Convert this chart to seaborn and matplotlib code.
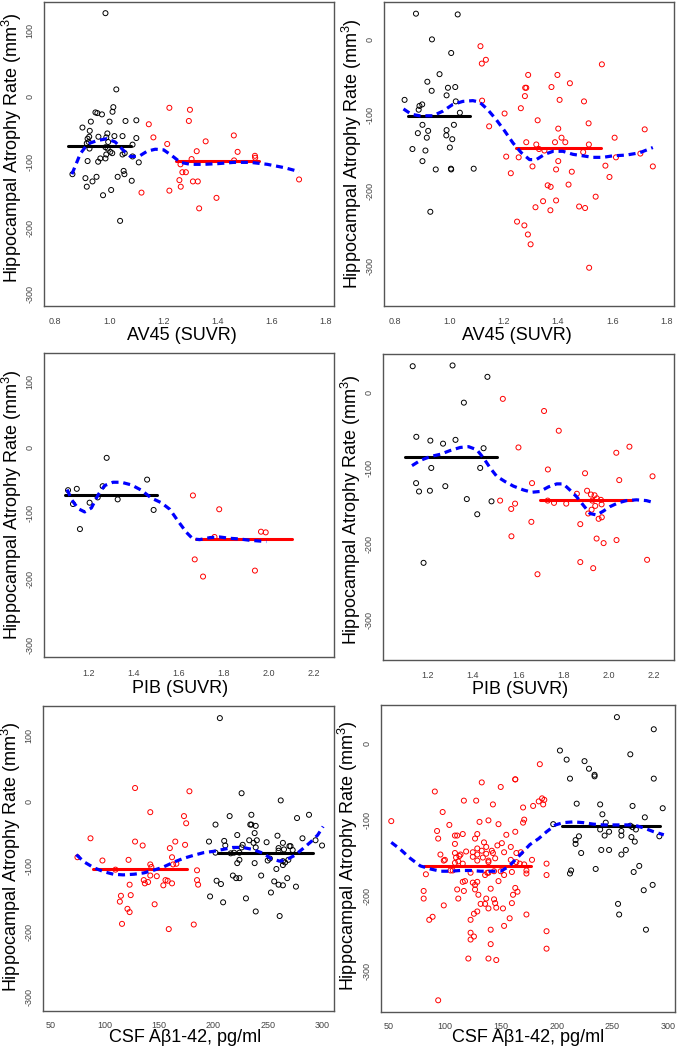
import numpy as np
import pandas as pd
import seaborn as sns
import matplotlib
matplotlib.use("Agg")
import matplotlib.pyplot as plt

# ---- Panel 1: AV45 (SUVR), left ----
p1_black_x = [0.986, 1.026, 1.015, 1.012, 0.949, 0.956, 0.973, 0.932, 1.001, 1.06, 1.1, 0.901, 0.928, 0.993,
              0.926, 0.96, 1.019, 1.049, 1.1, 0.92, 0.989, 0.924, 0.996, 0.917, 0.986, 0.927, 0.994, 1.086,
              1.011, 0.989, 1.049, 1.057, 0.967, 0.986, 1.086, 0.92, 0.959, 1.109, 0.864, 1.053, 1.056, 1.031,
              0.953, 0.912, 0.938, 1.083, 0.917, 1.007, 0.977, 1.04, 1.004]
p1_black_y = [127, 11, -16, -23, -24, -25, -27, -38, -38, -37, -36, -47, -52, -56,
              -61, -61, -60, -60, -63, -64, -62, -69, -69, -71, -77, -79, -79, -73,
              -86, -88, -88, -86, -94, -94, -91, -98, -99, -100, -118, -113, -118, -122,
              -122, -124, -129, -128, -137, -142, -150, -189, -84]
p1_red_x = [1.222, 1.298, 1.294, 1.146, 1.163, 1.46, 1.356, 1.214, 1.323, 1.474, 1.304, 1.538, 1.539,
            1.461, 1.263, 1.27, 1.283, 1.259, 1.309, 1.327, 1.119, 1.222, 1.264, 1.396, 1.332, 1.701]
p1_red_y = [-17, -20, -37, -42, -62, -59, -68, -72, -83, -84, -95, -90, -93,
            -97, -103, -115, -115, -127, -129, -129, -146, -143, -137, -154, -170, -126]
p1_black_mean = ([0.847, 1.079], [-74.5, -74.5])
p1_red_mean = ([1.248, 1.553], [-98, -98])
p1_fit_x = [0.862, 0.893, 0.92, 0.954, 0.991, 1.022, 1.053, 1.078, 1.109, 1.14, 1.17, 1.201, 1.232, 1.263,
            1.3, 1.349, 1.399, 1.46, 1.522, 1.584, 1.646, 1.701]
p1_fit_y = [-118, -87, -72, -67, -64, -69, -82, -91, -91, -83, -80, -81, -90, -100,
            -103, -103, -102, -100, -100, -103, -108, -114]

# ---- Panel 2: AV45 (SUVR), right ----
p2_black_x = [0.876, 1.03, 0.935, 1.006, 0.963, 0.918, 0.934, 0.994, 1.021, 0.834, 0.989, 1.023, 0.899,
              0.889, 0.886, 1.038, 0.9, 1.016, 0.883, 0.921, 0.989, 0.988, 0.916, 1.01, 1.001, 0.863, 0.911,
              0.9, 0.949, 1.005, 1.006, 1.089, 0.929]
p2_black_y = [34, 33, 0, -18, -46, -56, -68, -64, -63, -80, -74, -82, -86,
              -88, -93, -97, -113, -113, -124, -121, -120, -127, -130, -132, -143, -145, -147,
              -161, -172, -171, -172, -171, -228]
p2_red_x = [1.114, 1.119, 1.134, 1.562, 1.29, 1.398, 1.444, 1.279, 1.283, 1.376, 1.278, 1.406, 1.496,
            1.12, 1.263, 1.203, 1.325, 1.513, 1.146, 1.401, 1.72, 1.413, 1.609, 1.283, 1.389, 1.427, 1.32,
            1.514, 1.33, 1.35, 1.493, 1.704, 1.209, 1.255, 1.614, 1.401, 1.306, 1.575, 1.75, 1.393, 1.451,
            1.226, 1.59, 1.439, 1.362, 1.373, 1.539, 1.345, 1.393, 1.317, 1.478, 1.5, 1.372, 1.249, 1.276,
            1.289, 1.299, 1.515]
p2_red_y = [-9, -32, -27, -33, -47, -47, -58, -64, -64, -63, -75, -80, -82,
            -81, -91, -98, -107, -111, -115, -118, -119, -130, -130, -136, -136, -136, -139,
            -139, -145, -147, -149, -151, -155, -156, -156, -161, -168, -167, -168, -172, -175,
            -177, -182, -192, -193, -195, -208, -214, -213, -222, -221, -223, -226, -241, -246,
            -258, -271, -302]
p2_black_mean = ([0.847, 1.077], [-101, -101])
p2_red_mean = ([1.246, 1.557], [-144, -144])
p2_fit_x = [0.83, 0.859, 0.889, 0.938, 0.975, 1.012, 1.049, 1.086, 1.111, 1.141, 1.172, 1.203, 1.234,
            1.265, 1.295, 1.32, 1.351, 1.382, 1.418, 1.455, 1.492, 1.529, 1.566, 1.603, 1.652, 1.701, 1.75]
p2_fit_y = [-92, -99, -101, -101, -95, -86, -82, -81, -83, -93, -106, -121, -137,
            -150, -159, -159, -152, -148, -148, -152, -154, -156, -156, -154, -153, -150, -143]

# ---- Panel 3: PIB (SUVR), left ----
p3_black_x = [1.108, 1.147, 1.13, 1.161, 1.204, 1.24, 1.262, 1.28, 1.329, 1.46, 1.489]
p3_black_y = [-65, -63, -86, -124, -84, -76, -59, -16, -79, -49, -95]
p3_red_x = [1.664, 1.781, 1.76, 1.967, 1.988, 1.672, 1.709, 1.94]
p3_red_y = [-73, -94, -136, -128, -129, -170, -196, -187]
p3_black_mean = ([1.093, 1.503], [-72, -72])
p3_red_mean = ([1.679, 2.104], [-139, -139])
p3_fit_x = [1.104, 1.123, 1.153, 1.182, 1.212, 1.242, 1.271, 1.308, 1.345, 1.39, 1.434, 1.479, 1.523,
            1.561, 1.598, 1.635, 1.664, 1.694, 1.739, 1.783, 1.828, 1.872, 1.917, 1.954, 1.991]
p3_fit_y = [-64, -79, -93, -98, -92, -72, -58, -53, -53, -57, -65, -77, -84,
            -94, -112, -129, -139, -140, -137, -136, -138, -139, -141, -142, -143]

# ---- Panel 4: PIB (SUVR), right ----
p4_black_x = [1.134, 1.31, 1.464, 1.36, 1.15, 1.212, 1.268, 1.323, 1.447, 1.216, 1.432, 1.149, 1.162,
              1.21, 1.278, 1.373, 1.482, 1.419, 1.182]
p4_black_y = [34, 35, 20, -14, -59, -64, -68, -63, -74, -100, -100, -120, -131,
              -130, -124, -141, -144, -161, -225]
p4_red_x = [1.532, 1.714, 1.779, 1.601, 2.033, 2.091, 2.193, 1.731, 1.895, 2.046, 1.661, 1.904, 1.859,
            1.921, 1.937, 1.947, 1.927, 1.965, 1.52, 1.73, 1.758, 1.812, 1.586, 1.968, 1.94, 1.569, 1.924,
            1.909, 1.969, 1.955, 1.658, 1.874, 1.57, 1.946, 2.034, 1.977, 1.874, 2.169, 1.931, 1.685]
p4_red_y = [-9, -25, -51, -73, -80, -72, -111, -102, -107, -116, -120, -130, -134,
            -135, -136, -140, -143, -142, -143, -143, -146, -147, -147, -148, -150, -154, -155,
            -160, -165, -167, -171, -174, -190, -193, -195, -199, -224, -221, -232, -240]
p4_black_mean = ([1.099, 1.505], [-86, -86])
p4_red_mean = ([1.696, 2.102], [-142, -142])
p4_fit_x = [1.131, 1.168, 1.212, 1.256, 1.3, 1.344, 1.381, 1.417, 1.447, 1.476, 1.505, 1.542, 1.579,
            1.623, 1.66, 1.696, 1.733, 1.77, 1.799, 1.828, 1.858, 1.887, 1.917, 1.946, 1.975, 2.005,
            2.041, 2.078, 2.122, 2.166, 2.203]
p4_fit_y = [-97, -90, -85, -82, -77, -73, -72, -76, -87, -100, -111, -118, -124,
            -129, -132, -131, -125, -121, -121, -129, -138, -149, -160, -162, -157, -151,
            -146, -143, -142, -143, -146]

# ---- Panel 5: CSF Abeta 1-42, left ----
p5_black_x = [206, 226, 262, 215, 235, 234, 235, 239, 277, 288, 202, 196, 210, 211, 222, 227, 226, 233,
              238, 240, 237, 239, 249, 259, 264, 260, 265, 270, 271, 282, 294, 300, 202, 216, 219, 224,
              224, 222, 238, 250, 252, 260, 264, 266, 264, 269, 273, 258, 203, 207, 218, 221, 224, 244,
              256, 260, 264, 268, 276, 197, 209, 230, 253, 239, 261]
p5_black_y = [127, 12, 1, -23, -21, -36, -36, -38, -26, -21, -36, -62, -61, -68, -52, -67, -71, -60,
              -49, -60, -64, -71, -63, -53, -64, -72, -74, -69, -69, -57, -60, -68, -79, -80, -79, -79,
              -90, -95, -95, -91, -88, -76, -92, -94, -98, -90, -75, -104, -122, -127, -114, -118, -118, -114,
              -123, -128, -129, -118, -131, -146, -155, -149, -140, -169, -176]
p5_red_x = [75, 87, 98, 110, 122, 123, 124, 115, 114, 121, 123, 116, 128, 128, 135, 142, 136, 137, 140,
            142, 143, 142, 148, 146, 154, 156, 158, 159, 160, 162, 163, 166, 162, 165, 173, 175, 174, 178,
            182, 185, 185, 186]
p5_red_y = [-86, -57, -91, -105, -90, -128, -144, -145, -154, -165, -170, -188, 20, -62, -68, -17, -121, -126, -124,
            -97, -101, -114, -115, -158, -129, -121, -122, -196, -72, -86, -97, -96, -126, -62, -23, -34, -67, 15,
            -189, -106, -121, -128]
p5_red_mean = ([89, 176], [-104, -104])
p5_black_mean = ([204, 292], [-79, -79])
p5_fit_x = [74, 81, 90, 99, 108, 117, 127, 136, 145, 154, 163, 172, 182, 191, 200, 209, 218, 227,
            236, 246, 253, 261, 267, 275, 283, 290, 296, 301]
p5_fit_y = [-82, -93, -102, -108, -112, -113, -112, -110, -106, -101, -94, -88, -83, -79, -77, -74, -71, -71,
            -74, -80, -88, -92, -90, -83, -72, -62, -52, -39]

# ---- Panel 6: CSF Abeta 1-42, right ----
p6_black_x = [254, 287, 203, 209, 266, 225, 229, 234, 234, 212, 287, 218, 239, 268, 295, 279, 241, 197,
              244, 266, 268, 271, 239, 247, 258, 243, 258, 267, 292, 220, 217, 217, 270, 222, 240, 247,
              262, 258, 213, 212, 235, 269, 274, 278, 286, 255, 256, 280]
p6_black_y = [35, 19, -9, -21, -14, -23, -33, -41, -43, -46, -46, -79, -80, -82, -85, -97, -93, -106,
              -104, -108, -110, -113, -113, -116, -115, -121, -121, -123, -122, -122, -127, -132, -129, -144, -140, -140,
              -140, -146, -167, -171, -165, -169, -161, -193, -186, -211, -225, -245]
p6_red_x = [52, 91, 98, 93, 94, 96, 99, 100, 104, 83, 81, 81, 99, 86, 89, 94, 109, 111, 109, 109, 110,
            113, 114, 116, 117, 119, 109, 112, 116, 105, 107, 111, 112, 117, 116, 118, 123, 123, 123, 125,
            125, 125, 126, 123, 127, 127, 127, 126, 121, 128, 129, 129, 129, 129, 129, 129, 130, 131, 132,
            133, 134, 133, 135, 136, 136, 137, 137, 137, 138, 139, 139, 139, 139, 139, 141, 141, 141, 139,
            142, 143, 143, 144, 145, 144, 145, 146, 146, 147, 148, 148, 150, 151, 150, 152, 153, 153, 153,
            155, 158, 159, 159, 160, 160, 161, 163, 163, 163, 164, 163, 165, 164, 167, 168, 170, 170, 171,
            171, 173, 173, 173, 178, 179, 185, 184, 187, 188, 189, 191, 191, 191, 191]
p6_red_y = [-102, -63, -90, -115, -125, -146, -154, -153, -107, -172, -194, -204, -213, -232, -228, -338, -121,
            -121, -132, -144, -150, -148, -146, -119, -75, -142, -157, -155, -158, -167, -167, -192, -204, -194,
            -182, -181, -170, -232, -249, -143, -149, -183, -254, -258, -125, -186, -192, -224, -283, -75, -146,
            -154, -138, -119, -182, -221, -199, -103, -211, -141, -150, -51, -130, -173, -211, -204, -136, -145,
            -170, -101, -154, -156, -170, -217, -191, -245, -264, -283, -141, -80, -144, -168, -151, -205, -210,
            -216, -285, -134, -181, -106, -168, -131, -57, -217, -173, -143, -240, -120, -230, -136, -153, -169,
            -210, -199, -116, -47, -47, -144, -190, -195, -156, -158, -143, -84, -104, -100, -159, -167, -171,
            -225, -153, -82, -27, -76, -72, -80, -74, -158, -173, -247, -270]
p6_red_mean = ([81, 177], [-161, -161])
p6_black_mean = ([205, 293], [-109, -109])
p6_fit_x = [52, 60, 69, 78, 87, 96, 105, 114, 123, 132, 141, 150, 157, 163, 169, 176, 184, 191, 199,
            206, 215, 224, 233, 242, 251, 260, 269, 278, 287, 296]
p6_fit_y = [-130, -139, -151, -161, -165, -168, -168, -167, -167, -168, -168, -168, -162, -153, -144, -133,
            -125, -116, -107, -104, -103, -104, -106, -107, -107, -107, -107, -111, -116, -120]

suvr_ticks = [0.8, 1.0, 1.2, 1.4, 1.6, 1.8]
pib_ticks = [1.2, 1.4, 1.6, 1.8, 2.0, 2.2]
csf_ticks = [50, 100, 150, 200, 250, 300]

ylab = "Hippocampal Atrophy Rate (mm$^3$)"

panels = [
    dict(pos=[0.0648, 0.7089, 0.4271, 0.2892], xlim=(0.759, 1.83), ylim=(-318, 144),
         xticks=suvr_ticks, fmt="{:.1f}", yticks=[-300, -200, -100, 0, 100], xlabel="AV45 (SUVR)",
         lx=0.475, ly=-0.071, xpad=4.5, ycen=0.52,
         black=(p1_black_x, p1_black_y), red=(p1_red_x, p1_red_y),
         bmean=p1_black_mean, rmean=p1_red_mean, fit=(p1_fit_x, p1_fit_y)),
    dict(pos=[0.5655, 0.7090, 0.4271, 0.2895], xlim=(0.758, 1.828), ylim=(-352, 50),
         xticks=suvr_ticks, fmt="{:.1f}", yticks=[-300, -200, -100, 0], xlabel="AV45 (SUVR)",
         lx=0.46, ly=-0.071, xpad=4.5, ycen=0.5,
         black=(p2_black_x, p2_black_y), red=(p2_red_x, p2_red_y),
         bmean=p2_black_mean, rmean=p2_red_mean, fit=(p2_fit_x, p2_fit_y)),
    dict(pos=[0.0648, 0.3743, 0.4271, 0.2895], xlim=(1.001, 2.292), ylim=(-318, 143),
         xticks=pib_ticks, fmt="{:.1f}", yticks=[-300, -200, -100, 0, 100], xlabel="PIB (SUVR)",
         lx=0.47, ly=-0.076, xpad=4.5, ycen=0.5,
         black=(p3_black_x, p3_black_y), red=(p3_red_x, p3_red_y),
         bmean=p3_black_mean, rmean=p3_red_mean, fit=(p3_fit_x, p3_fit_y)),
    dict(pos=[0.5641, 0.3714, 0.4286, 0.2914], xlim=(1.003, 2.288), ylim=(-353, 50),
         xticks=pib_ticks, fmt="{:.1f}", yticks=[-300, -200, -100, 0], xlabel="PIB (SUVR)",
         lx=0.47, ly=-0.067, xpad=4, ycen=0.49,
         black=(p4_black_x, p4_black_y), red=(p4_red_x, p4_red_y),
         bmean=p4_black_mean, rmean=p4_red_mean, fit=(p4_fit_x, p4_fit_y)),
    dict(pos=[0.0633, 0.0374, 0.4286, 0.2905], xlim=(43.3, 311), ylim=(-321, 146),
         xticks=csf_ticks, fmt="{:.0f}", yticks=[-300, -200, -100, 0, 100], xlabel="CSF A\u03b21-42, pg/ml",
         lx=0.49, ly=-0.059, xpad=3.5, ycen=0.505,
         black=(p5_black_x, p5_black_y), red=(p5_red_x, p5_red_y),
         bmean=p5_black_mean, rmean=p5_red_mean, fit=(p5_fit_x, p5_fit_y)),
    dict(pos=[0.5611, 0.0365, 0.4330, 0.2921], xlim=(42.8, 306), ylim=(-353, 51),
         xticks=csf_ticks, fmt="{:.0f}", yticks=[-300, -200, -100, 0], xlabel="CSF A\u03b21-42, pg/ml",
         lx=0.5, ly=-0.058, xpad=3.5, ycen=0.51,
         black=(p6_black_x, p6_black_y), red=(p6_red_x, p6_red_y),
         bmean=p6_black_mean, rmean=p6_red_mean, fit=(p6_fit_x, p6_fit_y)),
]

sns.set_theme(style="white")
plt.rcParams["font.family"] = ["Liberation Sans", "DejaVu Sans"]
plt.rcParams["mathtext.fontset"] = "custom"
plt.rcParams["mathtext.rm"] = "Liberation Sans"
plt.rcParams["mathtext.it"] = "Liberation Sans:italic"

fig = plt.figure(figsize=(6.79, 10.5), dpi=100)
fig.patch.set_facecolor("white")


def draw_panel(p):
    ax = fig.add_axes(p["pos"])
    ax.set_facecolor("white")
    sns.scatterplot(x=p["black"][0], y=p["black"][1], ax=ax, marker="o", s=13,
                    facecolor="none", edgecolor="black", linewidth=0.7, zorder=3)
    sns.scatterplot(x=p["red"][0], y=p["red"][1], ax=ax, marker="o", s=13,
                    facecolor="none", edgecolor="#ff0000", linewidth=0.7, zorder=3)
    sns.lineplot(x=p["bmean"][0], y=p["bmean"][1], ax=ax, color="black", linewidth=2.2, zorder=4)
    sns.lineplot(x=p["rmean"][0], y=p["rmean"][1], ax=ax, color="#ff0000", linewidth=2.2, zorder=4)
    sns.lineplot(x=p["fit"][0], y=p["fit"][1], ax=ax, color="#0000ff", linewidth=2.3,
                 linestyle=(0, (2.2, 1.5)), zorder=5)
    ax.set_xlim(*p["xlim"])
    ax.set_ylim(*p["ylim"])
    ax.set_xticks(p["xticks"])
    ax.set_xticklabels([p["fmt"].format(t) for t in p["xticks"]])
    ax.set_yticks(p["yticks"])
    ax.set_yticklabels([str(t) for t in p["yticks"]], rotation=90, va="center")
    ax.tick_params(axis="both", direction="out", length=4, width=0.8, color="#555555",
                   labelsize=6.5, labelcolor="#444444")
    ax.tick_params(axis="x", pad=p["xpad"])
    ax.tick_params(axis="y", pad=3)
    for sp in ax.spines.values():
        sp.set_color("#555555")
        sp.set_linewidth(1.0)
    ax.set_xlabel(p["xlabel"], fontsize=13, color="black")
    ax.xaxis.set_label_coords(p["lx"], p["ly"])
    ax.set_ylabel(ylab, fontsize=13, color="black")
    ax.yaxis.set_label_coords(-0.07, p["ycen"])
    return ax


for p in panels:
    draw_panel(p)

fig.savefig("out.png", dpi=100, facecolor="white")
